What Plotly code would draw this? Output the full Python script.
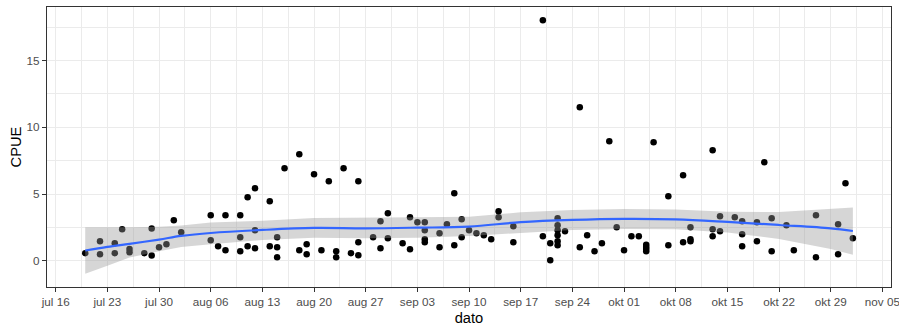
import plotly.graph_objects as go

YEAR = "2018"

# observed points: (month-day, CPUE)
point_dates = [
    "07-20", "07-22", "07-22", "07-24", "07-24", "07-25", "07-26", "07-26", "07-28",
    "07-29", "07-29", "07-30", "07-31", "08-01", "08-02", "08-06", "08-06", "08-07",
    "08-08", "08-08", "08-10", "08-10", "08-10", "08-11", "08-11", "08-12", "08-12",
    "08-12", "08-14", "08-14", "08-15", "08-15", "08-15", "08-16", "08-18", "08-18",
    "08-19", "08-19", "08-20", "08-21", "08-22", "08-23", "08-23", "08-24", "08-25",
    "08-26", "08-26", "08-26", "08-28", "08-29", "08-29", "08-30", "08-30", "09-01",
    "09-02", "09-02", "09-03", "09-04", "09-04", "09-04", "09-04", "09-06", "09-06",
    "09-07", "09-08", "09-08", "09-09", "09-09", "09-10", "09-11", "09-12", "09-13",
    "09-14", "09-14", "09-16", "09-16", "09-20", "09-20", "09-21", "09-21", "09-22",
    "09-22", "09-22", "09-22", "09-22", "09-22", "09-23", "09-25", "09-25", "09-26",
    "09-27", "09-28", "09-29", "09-30", "10-01", "10-02", "10-03", "10-04", "10-04",
    "10-04", "10-04", "10-05", "10-07", "10-07", "10-09", "10-09", "10-10", "10-10",
    "10-10", "10-13", "10-13", "10-13", "10-14", "10-14", "10-16", "10-17", "10-17",
    "10-17", "10-19", "10-19", "10-20", "10-21", "10-21", "10-23", "10-24", "10-27",
    "10-27", "10-30", "10-30", "10-31", "11-01",
]
point_cpue = [
    0.58, 1.47, 0.50, 1.32, 0.58, 2.37, 0.90, 0.65, 0.58,
    2.42, 0.40, 1.02, 1.25, 3.04, 2.15, 3.42, 1.55, 1.10,
    3.42, 0.80, 3.42, 1.77, 0.72, 4.76, 1.10, 5.44, 2.30,
    0.95, 4.46, 1.10, 1.77, 1.02, 0.28, 6.93, 7.98, 0.80,
    1.25, 0.50, 6.48, 0.80, 5.96, 0.72, 0.28, 6.93, 0.58,
    5.96, 1.40, 0.43, 1.77, 2.97, 0.95, 3.57, 1.70, 1.32,
    3.27, 0.87, 2.89, 2.89, 2.30, 1.62, 1.40, 2.07, 1.02,
    2.74, 5.06, 1.17, 3.12, 1.77, 2.30, 2.07, 1.92, 1.62,
    3.72, 3.27, 2.59, 1.40, 18.0, 1.85, 1.32, 0.05, 3.19,
    2.67, 2.30, 1.92, 1.47, 1.17, 2.22, 11.5, 1.02, 1.92,
    0.72, 1.32, 8.95, 2.52, 0.80, 1.85, 1.85, 1.22, 1.05,
    0.90, 0.72, 8.88, 4.84, 1.17, 6.41, 1.40, 2.52, 1.62,
    1.47, 8.28, 2.37, 1.85, 3.34, 2.22, 3.27, 2.97, 2.00,
    1.10, 2.89, 1.47, 7.38, 3.19, 0.72, 2.67, 0.80, 3.42,
    0.28, 2.74, 0.50, 5.81, 1.70,
]

# smoother (loess)
smooth_dates = ["07-20", "07-23", "07-26", "07-30", "08-02", "08-06", "08-13", "08-20",
                "08-27", "09-03", "09-10", "09-17", "09-24", "10-01", "10-08", "10-15",
                "10-22", "10-29", "11-01"]
smooth_fit = [0.78, 1.05, 1.28, 1.60, 1.87, 2.09, 2.32, 2.47, 2.44, 2.49, 2.57, 2.90,
              3.07, 3.15, 3.11, 2.92, 2.69, 2.44, 2.24]
smooth_upper = [2.52, 2.50, 2.52, 2.55, 2.65, 2.87, 3.01, 3.22, 3.22, 3.27, 3.31, 3.64,
                3.81, 3.89, 3.84, 3.68, 3.66, 3.91, 3.99]
smooth_lower = [-0.95, -0.36, 0.25, 0.72, 1.05, 1.25, 1.57, 1.74, 1.70, 1.74, 1.87, 2.12,
                2.32, 2.39, 2.37, 2.12, 1.65, 0.90, 0.47]

tick_dates = ["07-16", "07-23", "07-30", "08-06", "08-13", "08-20", "08-27", "09-03",
              "09-10", "09-17", "09-24", "10-01", "10-08", "10-15", "10-22", "10-29", "11-05"]
tick_labels = ["jul 16", "jul 23", "jul 30", "aug 06", "aug 13", "aug 20", "aug 27", "sep 03",
               "sep 10", "sep 17", "sep 24", "okt 01", "okt 08", "okt 15", "okt 22", "okt 29", "nov 05"]
minor_dates = ["07-19 12:00", "07-26 12:00", "08-02 12:00", "08-09 12:00", "08-16 12:00",
               "08-23 12:00", "08-30 12:00", "09-06 12:00", "09-13 12:00", "09-20 12:00",
               "09-27 12:00", "10-04 12:00", "10-11 12:00", "10-18 12:00", "10-25 12:00",
               "11-01 12:00"]


def d(s):
    return f"{YEAR}-{s}"


px = [d(s) for s in point_dates]
sx = [d(s) for s in smooth_dates]

fig = go.Figure()
fig.add_trace(go.Scatter(
    x=px, y=point_cpue, mode="markers",
    marker=dict(color="black", size=6.5, line=dict(width=0)),
    showlegend=False, hoverinfo="x+y"))
fig.add_trace(go.Scatter(
    x=sx + sx[::-1], y=smooth_upper + smooth_lower[::-1],
    fill="toself", fillcolor="rgba(153,153,153,0.4)", line=dict(width=0),
    mode="lines", showlegend=False, hoverinfo="skip"))
fig.add_trace(go.Scatter(
    x=sx, y=smooth_fit, mode="lines",
    line=dict(color="#3366FF", width=2.2, shape="spline"),
    showlegend=False))

grid = "#EBEBEB"
fig.update_layout(
    width=899, height=333,
    margin=dict(l=47, r=8, t=7, b=46),
    paper_bgcolor="white", plot_bgcolor="white",
    font=dict(family="Liberation Sans, Arial, sans-serif", color="#4D4D4D"),
    xaxis=dict(
        type="date", automargin=False,
        range=[d("07-14 19:40"), d("11-06 04:00")],
        tickvals=[d(s) for s in tick_dates], ticktext=tick_labels,
        tickfont=dict(size=11.7, color="#4D4D4D"),
        ticklabeloverflow="allow",
        ticks="outside", ticklen=4, tickcolor="#333333", tickwidth=1,
        showgrid=True, gridcolor=grid, gridwidth=1.1,
        minor=dict(tickvals=[d(s) for s in minor_dates], showgrid=True,
                   gridcolor=grid, gridwidth=0.6, ticks="", ticklen=0),
        showline=True, linecolor="#333333", linewidth=1.1, mirror=True,
        zeroline=False,
        title=dict(text="dato", font=dict(size=14.7, color="black"), standoff=5),
    ),
    yaxis=dict(
        automargin=False,
        range=[-1.95, 19.0],
        tickvals=[0, 5, 10, 15], ticktext=["0", "5", "10", "15"],
        tickfont=dict(size=11.7, color="#4D4D4D"),
        ticks="outside", ticklen=4, tickcolor="#333333", tickwidth=1,
        showgrid=True, gridcolor=grid, gridwidth=1.1,
        minor=dict(tickvals=[2.5, 7.5, 12.5, 17.5], showgrid=True,
                   gridcolor=grid, gridwidth=0.6, ticks="", ticklen=0),
        showline=True, linecolor="#333333", linewidth=1.1, mirror=True,
        zeroline=False,
        title=dict(text="CPUE", font=dict(size=14.7, color="black"), standoff=1),
    ),
)

fig.write_html("out.html")
